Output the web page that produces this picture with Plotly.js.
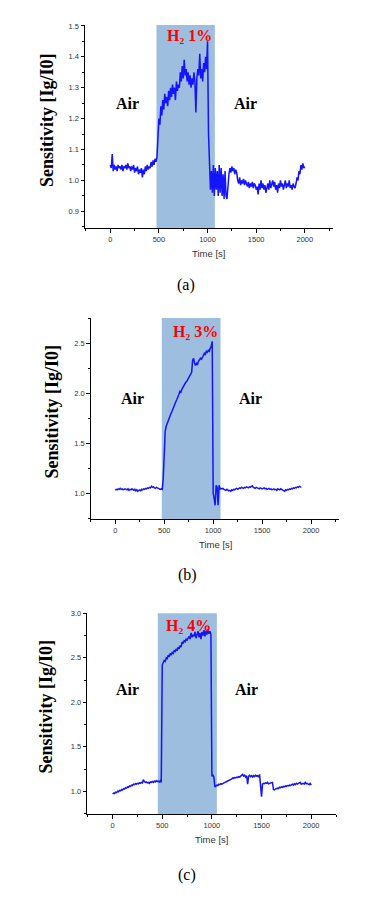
<!DOCTYPE html>
<html>
<head>
<meta charset="utf-8">
<script src="https://cdn.plot.ly/plotly-3.0.1.min.js"></script>
<style>html,body{margin:0;padding:0;background:#fff;}#chart{width:365px;height:897px;}</style>
</head>
<body>
<div id="chart"></div>
<script>
// ---- data ----
const timeStep = 10; // seconds between samples
const sensA = [
1.05,1.04,1.085,1.03,1.05,1.035,1.045,1.03,1.05,1.04,1.045,
1.035,1.05,1.03,1.045,1.04,1.05,1.035,1.055,1.04,1.045,
1.03,1.045,1.035,1.05,1.025,1.04,1.03,1.045,1.02,1.035,
1.025,1.04,1.01,1.035,1.02,1.045,1.03,1.05,1.035,1.045,
1.04,1.06,1.045,1.065,1.05,1.07,1.06,1.075,1.15,1.2,
1.18,1.24,1.21,1.26,1.23,1.28,1.25,1.27,1.24,1.29,
1.26,1.3,1.27,1.31,1.28,1.3,1.26,1.32,1.29,1.31,
1.3,1.35,1.32,1.37,1.33,1.39,1.34,1.36,1.32,1.35,
1.31,1.34,1.3,1.33,1.31,1.35,1.32,1.22,1.33,1.36,
1.34,1.41,1.33,1.36,1.32,1.38,1.35,1.4,1.36,1.45,
1.15,1.06,0.97,1.03,0.96,1.05,0.95,1.04,0.97,1.03,
0.95,1.05,0.96,1.04,0.95,1.02,0.94,1.03,0.95,0.94,
1.0,1.02,1.04,1.025,1.045,1.03,1.04,1.02,1.035,1.025,
1.0,0.99,1.01,0.985,1.0,0.99,1.005,0.985,1.0,0.99,
0.98,0.995,0.975,0.99,0.98,0.995,0.975,0.99,0.985,0.97,
0.98,0.955,0.99,0.97,1.0,0.975,0.99,0.97,0.985,0.96,
0.98,0.99,0.97,1.0,0.975,0.99,1.0,0.98,0.995,0.97,
0.985,0.96,0.99,0.975,1.0,0.98,0.99,0.97,0.985,1.0,
0.975,0.99,0.98,1.0,0.975,0.985,0.97,0.99,0.98,0.975,
0.99,1.01,1.0,1.03,1.02,1.05,1.035,1.055,1.04,1.045
];
const sensB = [
1.03,1.04,1.035,1.045,1.04,1.05,1.04,1.045,1.035,1.04,1.045,
1.04,1.035,1.045,1.03,1.04,1.035,1.045,1.04,1.03,1.04,
1.025,1.035,1.02,1.03,1.035,1.025,1.04,1.035,1.045,1.04,
1.05,1.045,1.055,1.05,1.06,1.055,1.07,1.06,1.065,1.055,
1.05,1.06,1.055,1.05,1.045,1.04,1.045,1.04,1.15,1.4,
1.62,1.67,1.7,1.72,1.75,1.77,1.8,1.82,1.85,1.88,
1.9,1.92,1.94,1.96,1.99,2.02,2.01,2.04,2.06,2.08,
2.09,2.11,2.12,2.14,2.16,2.17,2.19,2.21,2.33,2.35,
2.3,2.28,2.3,2.29,2.32,2.33,2.35,2.34,2.37,2.38,
2.4,2.39,2.42,2.41,2.43,2.42,2.45,2.47,2.52,1.0,
0.95,0.88,1.08,1.06,0.88,1.08,1.04,1.05,1.045,1.05,
1.04,1.035,1.03,1.04,1.035,1.025,1.03,1.02,1.035,1.03,
1.04,1.035,1.045,1.05,1.04,1.045,1.055,1.05,1.06,1.055,
1.05,1.06,1.055,1.065,1.06,1.055,1.065,1.06,1.07,1.075,
1.06,1.055,1.05,1.06,1.055,1.05,1.045,1.055,1.05,1.045,
1.05,1.055,1.045,1.05,1.04,1.045,1.05,1.04,1.045,1.035,
1.04,1.045,1.035,1.04,1.03,1.045,1.04,1.035,1.045,1.04,
1.03,1.025,1.02,1.035,1.03,1.04,1.035,1.045,1.04,1.05,
1.045,1.055,1.05,1.06,1.055,1.065,1.06,1.07,1.065,1.06
];
const sensC = [
0.97,0.98,0.975,0.99,0.985,1.0,0.995,1.01,1.005,1.02,1.015,
1.03,1.025,1.04,1.035,1.05,1.045,1.06,1.055,1.07,1.065,
1.08,1.075,1.085,1.08,1.09,1.085,1.095,1.09,1.1,1.095,
1.13,1.11,1.1,1.105,1.095,1.1,1.09,1.105,1.1,1.11,
1.1,1.115,1.105,1.12,1.11,1.115,1.105,1.12,1.1,2.42,
2.45,2.47,2.46,2.5,2.49,2.53,2.51,2.55,2.53,2.56,
2.55,2.58,2.57,2.6,2.58,2.62,2.6,2.64,2.62,2.68,
2.66,2.69,2.68,2.71,2.7,2.72,2.74,2.71,2.78,2.73,
2.76,2.74,2.79,2.72,2.77,2.8,2.73,2.78,2.71,2.79,
2.75,2.81,2.74,2.8,2.76,2.82,2.77,2.8,2.76,1.17,
1.18,1.16,1.05,1.06,1.07,1.065,1.08,1.075,1.085,1.08,
1.09,1.095,1.1,1.105,1.11,1.115,1.12,1.125,1.13,1.14,
1.15,1.145,1.155,1.15,1.16,1.155,1.165,1.16,1.17,1.18,
1.19,1.17,1.18,1.16,1.175,1.08,1.17,1.18,1.165,1.175,
1.16,1.175,1.165,1.18,1.17,1.175,1.16,1.19,1.06,0.94,
1.08,1.09,1.085,1.095,1.09,1.1,1.085,1.09,1.095,1.1,
1.1,1.02,1.015,1.025,1.03,1.035,1.03,1.045,1.04,1.05,
1.045,1.055,1.05,1.06,1.055,1.065,1.06,1.07,1.065,1.075,
1.08,1.07,1.085,1.075,1.09,1.08,1.085,1.09,1.1,1.08,
1.085,1.09,1.08,1.1,1.085,1.09,1.08,1.075,1.09,1.07
];
const gasWindows = [[475,1075],[475,1075],[455,1050]]; // H2 exposure (s)
const gasLabels = ["H\u2082 1%","H\u2082 3%","H\u2082 4%"];
const panelLabels = ["(a)","(b)","(c)"];
const yTicks = [[0.9,1.0,1.1,1.2,1.3,1.4,1.5],[1.0,1.5,2.0,2.5],[1.0,1.5,2.0,2.5,3.0]];
const xTicks = [0,500,1000,1500,2000];

// ---- layout helpers ----
const W = 365, H = 897;
const px = v => v / W, py = v => 1 - v / H;
const times = arr => arr.map((_, i) => i * timeStep);

const panels = [
  {y: sensA, xdom:[85,333], ydom:[228,25], xr:[-260,2290], yr:[0.846,1.503], minor:0.05,
   yTitle:[47,120], air1:[127,104], air2:[245,104], gas:[189,36], time:[208,253], lab:[186,285]},
  {y: sensB, xdom:[90.7,339], ydom:[519,318], xr:[-251,2285], yr:[0.743,2.753], minor:0.25,
   yTitle:[51.5,412], air1:[132,398], air2:[250,398], gas:[195,331], time:[215,544], lab:[187,575]},
  {y: sensC, xdom:[87.3,336], ydom:[814,613.3], xr:[-255,2250], yr:[0.745,3.0], minor:0.25,
   yTitle:[45.5,707], air1:[127.5,689], air2:[246.5,689], gas:[188,625], time:[212,839], lab:[187,875]}
];

const data = [], shapes = [], annotations = [];
const layout = {
  width: W, height: H, margin:{l:0,r:0,t:0,b:0}, showlegend:false,
  paper_bgcolor:'#fff', plot_bgcolor:'rgba(0,0,0,0)'
};
const sans = 'Arial, "Liberation Sans", sans-serif';
const serif = '"Liberation Serif", serif';
const tickFont = {family:sans, size:7.5, color:'#333'};

panels.forEach((p, i) => {
  const n = i === 0 ? '' : String(i + 1);
  data.push({x: times(p.y), y: p.y, xaxis:'x'+n, yaxis:'y'+n, type:'scatter', mode:'lines',
             line:{color:'#1414ff', width:1.5}, hoverinfo:'skip'});
  const axCommon = {showgrid:false, zeroline:false, showline:true, linecolor:'#000', linewidth:1,
                    ticks:'outside', ticklen:3.5, tickwidth:1, tickcolor:'#000', tickfont:tickFont, fixedrange:true};
  layout['xaxis'+n] = Object.assign({}, axCommon, {
    domain:[px(p.xdom[0]), px(p.xdom[1])], anchor:'y'+n, range:p.xr,
    tickmode:'array', tickvals:xTicks, ticktext:xTicks.map(String),
    minor:{dtick:250, tick0:0, ticks:'outside', ticklen:2, tickcolor:'#000'}
  });
  layout['yaxis'+n] = Object.assign({}, axCommon, {
    domain:[py(p.ydom[0]), py(p.ydom[1])], anchor:'x'+n, range:p.yr,
    tickmode:'array', tickvals:yTicks[i], ticktext:yTicks[i].map(v => v.toFixed(1)),
    minor:{dtick:p.minor, tick0:0, ticks:'outside', ticklen:2, tickcolor:'#000'}
  });
  shapes.push({type:'rect', xref:'x'+n, yref:'y'+n+' domain', x0:gasWindows[i][0], x1:gasWindows[i][1],
               y0:0, y1:1, fillcolor:'rgb(157,190,222)', line:{width:0}, layer:'below'});
  const txt = (t, pos, font, extra) => annotations.push(Object.assign({
    text:t, xref:'paper', yref:'paper', x:px(pos[0]), y:py(pos[1]), xanchor:'center', yanchor:'middle',
    showarrow:false, font:font}, extra || {}));
  txt('Sensitivity [Ig/I0]', p.yTitle, {family:serif, size:18, color:'#000', weight:'bold'}, {textangle:-90});
  txt('Air', p.air1, {family:serif, size:16, color:'#000', weight:'bold'});
  txt('Air', p.air2, {family:serif, size:16, color:'#000', weight:'bold'});
  txt(gasLabels[i], p.gas, {family:serif, size:16, color:'#ff0000', weight:'bold'});
  txt('Time [s]', p.time, {family:sans, size:9.5, color:'#333'});
  txt(panelLabels[i], p.lab, {family:serif, size:16, color:'#000'});
});
layout.shapes = shapes;
layout.annotations = annotations;
Plotly.newPlot('chart', data, layout, {displayModeBar:false, staticPlot:true});
</script>
</body>
</html>
